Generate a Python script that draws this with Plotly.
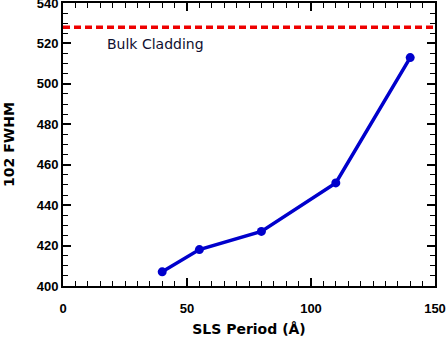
import plotly.graph_objects as go

period = [40, 55, 80, 110, 140]
fwhm = [407, 418, 427, 451, 513]
bulk_cladding = 528
bulk_label = "Bulk Cladding"
x_range = [0, 150]
y_range = [400, 540]

fig = go.Figure()
fig.add_trace(go.Scatter(
    x=x_range, y=[bulk_cladding, bulk_cladding], mode="lines",
    line=dict(color="#ee0000", width=3.5, dash="7px,4px"),
    showlegend=False, hoverinfo="skip", cliponaxis=False))
fig.add_trace(go.Scatter(
    x=period, y=fwhm, mode="lines+markers",
    line=dict(color="#0000cc", width=3.5),
    marker=dict(color="#0000cc", size=9),
    showlegend=False))

fig.add_annotation(x=17, y=519.5, text=bulk_label, showarrow=False,
                   xanchor="left", yanchor="middle",
                   font=dict(family="DejaVu Sans", size=14, color="#101030"))

axis_common = dict(
    showgrid=False, zeroline=False, showline=True, linecolor="black", linewidth=2,
    mirror="allticks", ticks="inside", ticklen=8, tickwidth=1.5, tickcolor="black",
    automargin=False, ticklabeloverflow="allow",
    tickfont=dict(family="Liberation Sans, Arial", size=13, color="black", weight="bold"),
)

title_font = dict(family="DejaVu Sans", size=14, color="black", weight="bold")

fig.update_xaxes(range=x_range, dtick=50, tick0=0, ticklabelstandoff=9,
                 minor=dict(dtick=5, ticks="inside", ticklen=5, tickwidth=1.2, tickcolor="black"),
                 title=dict(text="SLS Period (Å)", standoff=10, font=title_font),
                 **axis_common)
fig.update_yaxes(range=y_range, dtick=20, tick0=400,
                 minor=dict(dtick=5, ticks="inside", ticklen=5, tickwidth=1.2, tickcolor="black"),
                 title=dict(text="102 FWHM", standoff=19, font=title_font),
                 **axis_common)

fig.update_layout(
    width=447, height=341,
    margin=dict(l=63, r=12, t=3, b=55),
    plot_bgcolor="white", paper_bgcolor="white",
)

fig.write_html(
    "out.html",
    config={"displayModeBar": False},
    post_script="document.body.style.margin='0';document.body.style.padding='0';"
                "document.body.style.overflow='hidden';",
)
